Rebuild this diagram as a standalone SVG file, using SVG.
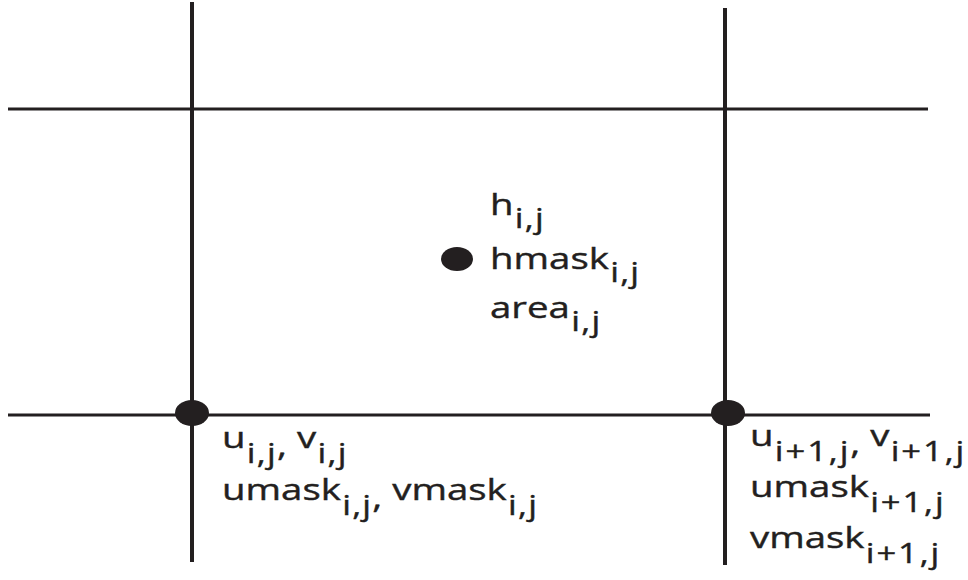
<svg xmlns="http://www.w3.org/2000/svg" width="968" height="580" viewBox="0 0 968 580">
<style>
.ln{stroke:#231f20;fill:none}
.dot{fill:#231f20}
.t{font-family:"Open Sans","Noto Sans",sans-serif;font-size:30px;fill:#231f20;stroke:#231f20;stroke-width:0.4px}
.s{font-size:27px;letter-spacing:1px}
.w{letter-spacing:1.5px}
</style>
<rect width="968" height="580" fill="#fff"/>
<g id="grid" class="ln">
<line x1="192" y1="2" x2="192" y2="562" stroke-width="4"/>
<line x1="725" y1="8" x2="725" y2="565" stroke-width="4"/>
<line x1="8" y1="109" x2="928" y2="109" stroke-width="3"/>
<line x1="8" y1="415" x2="930" y2="415" stroke-width="3"/>
</g>
<g id="hnode">
<ellipse class="dot" cx="457" cy="259" rx="16" ry="12"/>
<g transform="translate(490,215) scale(1.28,1)"><text class="t" x="0" y="0">h<tspan class="s" dx="1" dy="13">i,j</tspan></text></g>
<g transform="translate(490,269) scale(1.28,1)"><text class="t" x="0" y="0">hmask<tspan class="s" dx="1" dy="13">i,j</tspan></text></g>
<g transform="translate(490,318) scale(1.28,1)"><text class="t" x="0" y="0">area<tspan class="s" dx="1" dy="13">i,j</tspan></text></g>
</g>
<g id="unode">
<ellipse class="dot" cx="192" cy="413" rx="17" ry="13"/>
<g transform="translate(222,448) scale(1.28,1)"><text class="t" x="0" y="0">u<tspan class="s" dx="1" dy="15">i,j</tspan><tspan dy="-7">,</tspan><tspan dy="-8"> v</tspan><tspan class="s" dx="1" dy="15">i,j</tspan></text></g>
<g transform="translate(222,500) scale(1.28,1)"><text class="t" x="0" y="0">umask<tspan class="s" dx="1" dy="15">i,j</tspan><tspan dy="-7">,</tspan><tspan dy="-8"> vmask</tspan><tspan class="s" dx="1" dy="15">i,j</tspan></text></g>
</g>
<g id="unode2">
<ellipse class="dot" cx="728" cy="413" rx="17" ry="13"/>
<g transform="translate(750,446) scale(1.28,1)"><text class="t" x="0" y="0">u<tspan class="s w" dx="1" dy="15">i+1,j</tspan><tspan dy="-7">,</tspan><tspan dy="-8"> v</tspan><tspan class="s w" dx="1" dy="15">i+1,j</tspan></text></g>
<g transform="translate(750,497) scale(1.28,1)"><text class="t" x="0" y="0">umask<tspan class="s w" dx="1" dy="15">i+1,j</tspan></text></g>
<g transform="translate(750,548) scale(1.28,1)"><text class="t" x="0" y="0">vmask<tspan class="s w" dx="1" dy="15">i+1,j</tspan></text></g>
</g>
</svg>
